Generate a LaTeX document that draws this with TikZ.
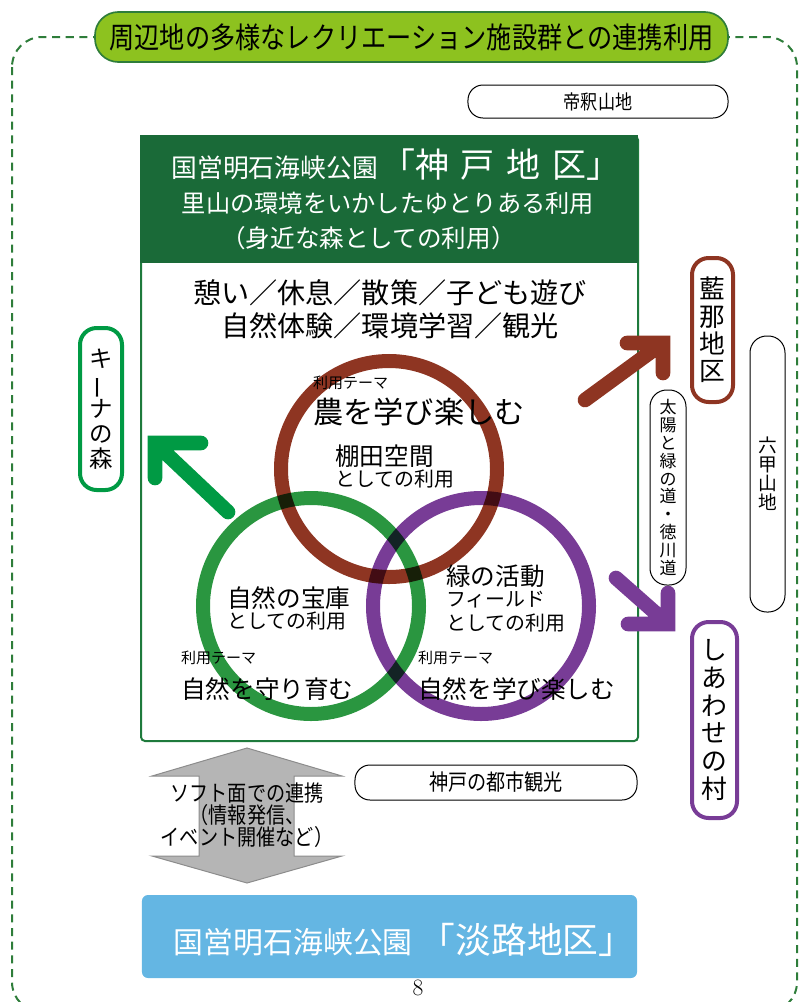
\documentclass[tikz,border=0pt]{standalone}
\usepackage{fontspec}
\usepackage{graphicx}
\usepackage{tikz}
\usetikzlibrary{positioning,calc}

\newfontfamily\jp{Noto Sans CJK JP}
\newfontfamily\jpnarrow[FakeStretch=0.86]{Noto Sans CJK JP}
\newcommand{\jpsize}[2]{\fontsize{#1pt}{#2pt}\selectfont}

\definecolor{frameGreen}{HTML}{2E7D3A}
\definecolor{bannerGreen}{HTML}{8DC21F}
\definecolor{headGreen}{HTML}{1A6A38}
\definecolor{boxGreen}{HTML}{1E7A3C}
\definecolor{farmBrown}{HTML}{8E3522}
\definecolor{natureGreen}{HTML}{2A9640}
\definecolor{fieldPurple}{HTML}{783C96}
\definecolor{arrowGreen}{HTML}{009A44}
\definecolor{awajiBlue}{HTML}{64B6E3}
\definecolor{softGray}{HTML}{B5B5B5}

\begin{document}
\begin{tikzpicture}[
	x=0.03cm, y=-0.03cm,
	font=\jp
	]
\tikzset{
	outerFrame/.style = { draw=frameGreen, line width=0.06cm, dash pattern=on 0.24cm off 0.17cm, rounded corners=0.9cm },
	banner/.style = { rectangle, rounded corners=0.7cm, draw=frameGreen, line width=0.05cm, fill=bannerGreen, minimum width=18.99cm, minimum height=1.5cm, inner sep=0pt, font=\jpnarrow\jpsize{25}{28} },
	tagbox/.style = { rectangle, rounded corners=0.45cm, draw=black, line width=0.03cm, inner sep=0pt, align=center },
	sidebox/.style = { rectangle, rounded corners=0.5cm, line width=0.12cm, inner sep=0pt, align=center },
	mainbox/.style = { rectangle, draw=boxGreen, line width=0.06cm, rounded corners=0.12cm, anchor=north west, minimum width=14.91cm, minimum height=18.15cm },
	headbox/.style = { rectangle, fill=headGreen, draw=headGreen, inner sep=0pt, anchor=north west, minimum width=14.91cm, minimum height=3.81cm },
	headtext/.style = { text=white, inner sep=0pt },
	ring/.style = { circle, draw, line width=0.42cm, minimum size=6.48cm, inner sep=0pt },
	themetag/.style = { anchor=west, inner sep=0pt, font=\jp\jpsize{12.8}{14} },
	themebig/.style = { inner sep=0pt, font=\jp\jpsize{21}{22} },
	spacename/.style = { anchor=west, inner sep=0pt, font=\jp\jpsize{21}{22} },
	spaceuse/.style = { inner sep=0pt, font=\jp\jpsize{17}{18} },
	bigArrow/.style = { line width=0.44cm, line cap=round, line join=miter, preaction={draw=black!45, transform canvas={shift={(0.07cm,-0.07cm)}}} },
	softArrow/.style = { fill=softGray, draw=black!45, line width=0.03cm }
}
	\useasboundingbox (0,0) rectangle (800,1002);

	% frame and banner
	\draw [outerFrame] (12,37) rectangle (797,1012);
	\node (banner) [banner] at (411.5,37) {周辺地の多様なレクリエーション施設群との連携利用};
	\node (taishaku) [tagbox, minimum width=7.8cm, minimum height=0.99cm, font=\jpnarrow\jpsize{17}{18}] at (598,101.5) {帝釈山地};

	% kobe area
	\node (kobeBox) [mainbox] at (140,135) {};
	\node (kobeHead) [headbox] at (140,135) {};
	\node (kobeTitle) [headtext] at (396,165) {{\jpsize{22}{24}国営明石海峡公園}\hspace{3pt}{\jpsize{29}{30}「神\hspace{10pt}戸\hspace{10pt}地\hspace{10pt}区」}};
	\node (kobeConcept) [headtext, font=\jp\jpsize{20.7}{22}] at (388,203) {里山の環境をいかしたゆとりある利用};
	\node (kobeNote) [headtext, font=\jp\jpsize{21}{22}] at (368.5,238) {（身近な森としての利用）};

	\node (activities) [inner sep=0pt, font=\jp\jpsize{24}{29}] at (390,293) {憩い／休息／散策／子ども遊び};
	\node (experience) [inner sep=0pt, font=\jp\jpsize{24}{29}, below=0.18cm of activities] {自然体験／環境学習／観光};

	% theme rings
	\begin{scope}[blend group=multiply]
	\node (farmRing) [ring, draw=farmBrown] at (389,469) {};
	\node (natureRing) [ring, draw=natureGreen] at (311,606) {};
	\node (fieldRing) [ring, draw=fieldPurple] at (481,606) {};
	\end{scope}

	\node (farmTag) [themetag] at (313,383) {利用テーマ};
	\node (farmTheme) [themebig, font=\jp\jpsize{25.8}{27}, below=0.22cm of farmTag.south west, anchor=north west] {農を学び楽しむ};
	\node (terraceName) [spacename] at (335,456) {棚田空間};
	\node (terraceUse) [spaceuse, below=0.05cm of terraceName.south west, anchor=north west] {としての利用};

	\node (treasureName) [spacename] at (227,598) {自然の宝庫};
	\node (treasureUse) [spaceuse, below=0.05cm of treasureName.south west, anchor=north west] {としての利用};

	\node (greenName) [spacename] at (446,576) {緑の活動};
	\node (greenField) [spaceuse, below=0.1cm of greenName.south west, anchor=north west] {フィールド};
	\node (greenUse) [spaceuse, below=0.15cm of greenField.south west, anchor=north west] {としての利用};

	\node (natureTag) [themetag] at (181,658) {利用テーマ};
	\node (natureTheme) [themebig, below=0.36cm of natureTag.south west, anchor=north west] {自然を守り育む};
	\node (learnTag) [themetag] at (418,658) {利用テーマ};
	\node (learnTheme) [themebig, below=0.36cm of learnTag.south west, anchor=north west] {自然を学び楽しむ};

	% side areas
	\node (kinaForest) [sidebox, draw=arrowGreen, minimum width=1.26cm, minimum height=4.86cm, font=\jp\jpsize{20}{21.3}] at (101,409) {キ\\\rotatebox[origin=c]{90}{ー}\\ナ\\の\\森};
	\node (aina) [sidebox, draw=farmBrown, minimum width=1.23cm, minimum height=4.32cm, font=\jp\jpsize{22}{23.4}] at (712.5,330) {藍\\那\\地\\区};
	\node (village) [sidebox, draw=fieldPurple, minimum width=1.35cm, minimum height=5.88cm, font=\jp\jpsize{22}{23.7}] at (714.5,720) {し\\あ\\わ\\せ\\の\\村};
	\node (sunRoad) [tagbox, rounded corners=0.5cm, minimum width=1.08cm, minimum height=5.85cm, font=\jp\jpsize{14.5}{15.3}] at (668,487.5) {太\\陽\\と\\緑\\の\\道\\・\\徳\\川\\道};
	\node (rokko) [tagbox, rounded corners=0.5cm, minimum width=1.05cm, minimum height=8.28cm, font=\jp\jpsize{16}{16.2}] at (767.5,474) {六\\甲\\山\\地};
	\node (cityTour) [tagbox, minimum width=8.46cm, minimum height=1.05cm, font=\jpnarrow\jpsize{19}{20}] at (496,782.5) {神戸の都市観光};

	% arrows to side areas
	\coordinate (kinaTail) at (228,512);
	\coordinate (kinaTip) at (155,443);
	\coordinate (ainaTail) at (585,400);
	\coordinate (ainaTip) at (663,343);
	\coordinate (villageTail) at (616,578);
	\coordinate (villageTip) at (668,624);

	\draw [bigArrow, draw=arrowGreen] (kinaTail) -- (kinaTip) ([xshift=1.38cm]kinaTip) -- (kinaTip) -- ([yshift=-1.05cm]kinaTip);
	\draw [bigArrow, draw=farmBrown] (ainaTail) -- (ainaTip) ([xshift=-1.08cm]ainaTip) -- (ainaTip) -- ([yshift=-0.9cm]ainaTip);
	\draw [bigArrow, draw=fieldPurple] (villageTail) -- (villageTip) ([xshift=-1.2cm]villageTip) -- (villageTip) -- ([yshift=0.93cm]villageTip);

	% awaji area
	\draw [softArrow] (247,748) -- (342,776) -- (294,776) -- (294,856) -- (342,856) -- (247,883) -- (152,856) -- (199,856) -- (199,776) -- (152,776) -- cycle;
	\node (softLink) [inner sep=0pt, align=center, font=\jpnarrow\jpsize{19}{18.7}] at (247,815) {ソフト面での連携\\（情報発信、\\イベント開催など）};

	\node (awajiBox) [rectangle, rounded corners=0.18cm, fill=awajiBlue, minimum width=14.85cm, minimum height=2.49cm] at (389.5,936.5) {};
	\node (awajiTitle) [headtext] at (404,940) {{\jpsize{25.5}{28}国営明石海峡公園}\hspace{6pt}{\jpsize{30.5}{32}「淡路地区」}};

	\node (pageNum) [inner sep=0pt, font=\fontsize{20}{21}\selectfont\rmfamily] at (418,988) {8};
\end{tikzpicture}
\end{document}
